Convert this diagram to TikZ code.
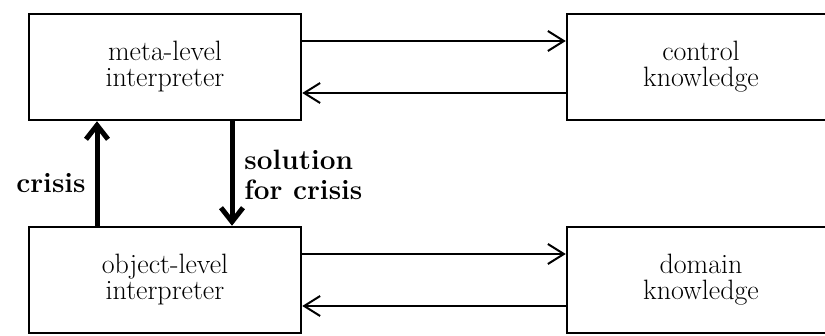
\documentclass[tikz,border=0pt]{standalone}
\usetikzlibrary{arrows.meta}
\begin{document}
\begin{tikzpicture}[x=1pt, y=1pt, line width=2pt,
		box/.style={draw, line width=2.5pt, minimum width=272pt, minimum height=106pt, align=center, font=\fontsize{28}{26}\selectfont},
		flow/.style={-{Straight Barb[length=16pt, width=20pt]}},
		signal/.style={line width=5pt, -{Straight Barb[length=14pt, width=22pt]}},
		lbl/.style={font=\fontsize{28}{30}\selectfont\bfseries, align=left}]
			\useasboundingbox (0,0) rectangle (825,335);
			\clip (0,0) rectangle (825,335);
			
			%boxes
			\node[box] (meta) at (165, 268) {meta-level\\interpreter};
			\node[box, minimum width=268pt] (ctrl) at (701, 268) {control\\knowledge};
			\node[box] (obj) at (165, 55) {object-level\\interpreter};
			\node[box, minimum width=268pt] (dom) at (701, 55) {domain\\knowledge};
			
			%knowledge access
			\draw[flow] ([yshift=26pt]meta.east) -- ([yshift=26pt]ctrl.west);
			\draw[flow] ([yshift=-26pt]ctrl.west) -- ([yshift=-26pt]meta.east);
			\draw[flow] ([yshift=26pt]obj.east) -- ([yshift=26pt]dom.west);
			\draw[flow] ([yshift=-26pt]dom.west) -- ([yshift=-26pt]obj.east);
			
			%crisis handling
			\draw[signal] ([xshift=-68pt]obj.north) -- ([xshift=-68pt]meta.south);
			\draw[signal] ([xshift=67pt]meta.south) -- ([xshift=67pt]obj.north);
			\node[lbl] (crisis) at (51, 152){crisis};
			\node[lbl, anchor=west] (sol) at (240, 160){solution\\for crisis};
		\end{tikzpicture}
\end{document}
